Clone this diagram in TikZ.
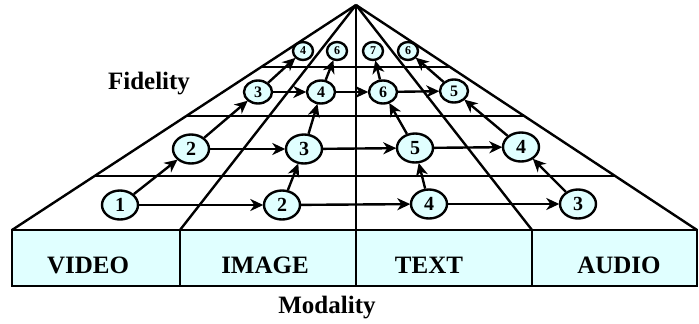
\documentclass[tikz,border=0pt]{standalone}
\usepackage{fontspec}
\setmainfont{Liberation Serif}
\usetikzlibrary{calc}
\usetikzlibrary{arrows.meta}
\usetikzlibrary{shapes.geometric}
\definecolor{color_fid_fill}{HTML}{E0FFFF}
\definecolor{color_fid_line}{HTML}{000000}
\def\fidlinewidth{2.4pt}
\def\fidlabelfont{\fontsize{25}{30}\selectfont\bfseries}
\def\fidtopy{230}
\def\fidboty{286}
\tikzset{
    fidlabel/.style={anchor=base,inner sep=0pt,font=\fidlabelfont},
    fidnode/.style={ellipse,draw=color_fid_line,fill=color_fid_fill,line width=\fidlinewidth,inner sep=0pt},
    fidone/.style={fidnode,minimum width=36pt,minimum height=29pt,font=\fontsize{20}{20}\selectfont\bfseries},
    fidthree/.style={fidnode,minimum width=28pt,minimum height=23pt,font=\fontsize{16}{16}\selectfont\bfseries},
    fidfour/.style={fidnode,minimum width=20pt,minimum height=18pt,font=\fontsize{12}{12}\selectfont\bfseries},
    fidarrow/.style={-{Stealth[length=13pt,width=12pt,inset=4pt]},line width=\fidlinewidth,shorten >=-0.5pt}
}

\begin{document}
\begin{tikzpicture}[x=1pt,y=-1pt]
        \useasboundingbox (0,0) rectangle (699,324);
        % modality boxes
        \fill[color_fid_fill] (12,\fidtopy) rectangle (697,\fidboty);
        \draw[line width=\fidlinewidth] (12,\fidtopy) rectangle (697,\fidboty);
        \foreach \x in {180,356,532}
            \draw[line width=\fidlinewidth] (\x,\fidtopy) -- (\x,\fidboty);
        % the pyramid
        \coordinate (apex) at (356,5);
        \coordinate (b0) at (12,\fidtopy);
        \coordinate (b1) at (180,\fidtopy);
        \coordinate (b2) at (356,\fidtopy);
        \coordinate (b3) at (532,\fidtopy);
        \coordinate (b4) at (697,\fidtopy);
        \foreach \i in {0,1,2,3,4}
            \draw[line width=\fidlinewidth,line join=miter] (apex) -- (b\i);
        \foreach \t in {0.76,0.4933,0.2756}
            \draw[line width=\fidlinewidth] ($(apex)!\t!(b0)$) -- ($(apex)!\t!(b4)$);
        % fidelity levels
        \node[fidone] (v1) at (120,205) {1};
        \node[fidone] (i1) at (282,205) {2};
        \node[fidone] (t1) at (429,204) {4};
        \node[fidone] (a1) at (578,204) {3};
        \node[fidone] (v2) at (191,149) {2};
        \node[fidone] (i2) at (304,149) {3};
        \node[fidone] (t2) at (415,148) {5};
        \node[fidone] (a2) at (521,147) {4};
        \node[fidthree] (v3) at (258,92) {3};
        \node[fidthree] (i3) at (321,92) {4};
        \node[fidthree] (t3) at (383,92) {6};
        \node[fidthree] (a3) at (454,91) {5};
        \node[fidfour] (v4) at (303,51) {4};
        \node[fidfour] (i4) at (337,51) {6};
        \node[fidfour] (t4) at (373,51) {7};
        \node[fidfour] (a4) at (408,51) {6};
        % arrows
        \foreach \k in {1,2,3} {
            \draw[fidarrow] (v\k) -- (i\k);
            \draw[fidarrow] (i\k) -- (t\k);
            \draw[fidarrow] (t\k) -- (a\k);
        }
        \foreach \c in {v,i,t,a}
            \foreach \k/\n in {1/2,2/3,3/4}
                \draw[fidarrow] (\c\k) -- (\c\n);
        % labels
        \node[fidlabel] (video) at (88,273) {VIDEO};
        \node[fidlabel] (image) at (265,273) {IMAGE};
        \node[fidlabel] (text) at (429,273) {TEXT};
        \node[fidlabel] (audio) at (619,273) {AUDIO};
        \node[fidlabel] (fidelity) at (149,89) {Fidelity};
        \node[fidlabel] (modality) at (327,313) {Modality};
    \end{tikzpicture}
\end{document}
